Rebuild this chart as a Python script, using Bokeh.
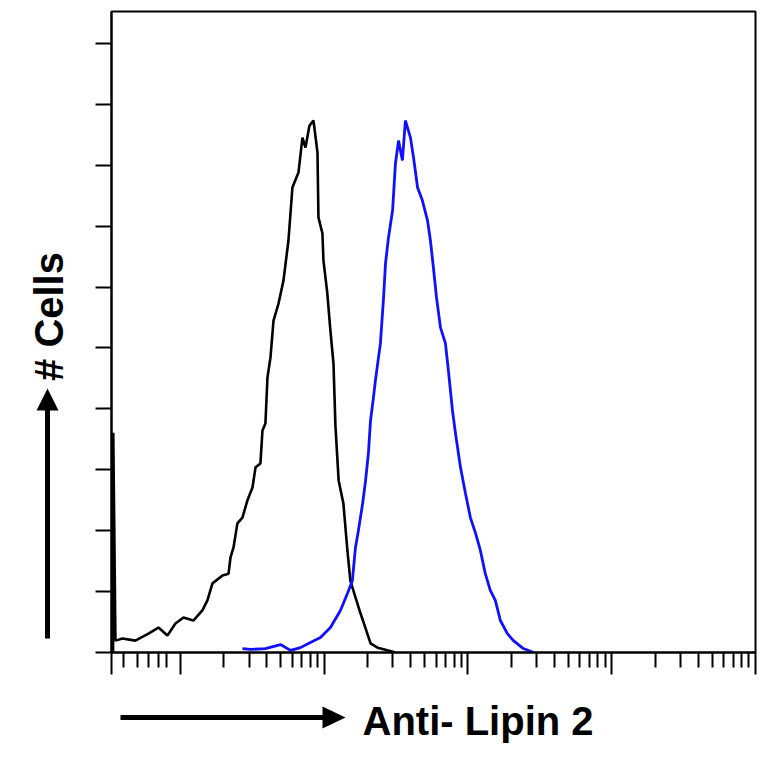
import math
from bokeh.plotting import figure
from bokeh.models import Range1d, FixedTicker, CustomJSTickFormatter
from bokeh.layouts import column, row
from bokeh.core.properties import value
from bokeh.embed import file_html
from bokeh.resources import INLINE

# ---- data ----
# Control (black) histogram: fluorescence value, cell count
ctrl_fl = [0.340, 0.341, 0.353, 0.395, 0.486, 0.599, 0.703, 0.812, 0.923, 1.05, 1.23,
           1.42, 1.54, 1.67, 1.96, 2.16, 2.23, 2.34, 2.49, 2.70, 2.92, 3.17, 3.33,
           3.60, 3.72, 3.90, 4.03, 4.23, 4.44, 4.81, 5.21, 5.64, 6.01, 6.62, 7.06,
           7.41, 7.89, 8.42, 8.98, 9.12, 9.72, 9.88, 10.5, 11.0, 11.6, 11.97, 12.6,
           13.6, 14.5, 15.2, 16.5, 17.9, 19.4, 21.0, 23.5, 27.5, 31.3]
ctrl_cnt = [0, 72.2, 3.9, 4.6, 3.9, 6.2, 8.2, 5.6, 9.5, 11.5, 10.5,
            13.8, 17.1, 22.7, 25.3, 25.9, 31.2, 34.5, 42.4, 44.3, 49.9, 54.2, 60.8,
            62.1, 72.9, 75.2, 90.3, 96.9, 109.0, 114.6, 122.2, 135.3, 152.7, 157.6, 169.1,
            165.8, 173.0, 174.7, 164.2, 142.9, 137.6, 128.7, 118.2, 106.7, 94.9, 74.5, 56.5,
            48.9, 33.5, 23.6, 18.1, 12.8, 7.9, 3.0, 1.6, 0.7, 0]

# Anti-Lipin 2 (blue) histogram
lipin_fl = [2.70, 3.07, 3.90, 4.96, 5.83, 6.84, 8.02, 9.42, 11.05, 12.97, 14.5, 15.7,
            16.5, 17.3, 18.5, 19.4, 20.3, 21.0, 22.0, 22.7, 24.6, 25.8, 26.7, 28.0,
            29.9, 31.3, 32.9, 35.0, 36.7, 39.8, 41.8, 44.6, 48.2, 52.3, 54.8, 57.5,
            60.4, 64.4, 69.7, 73.1, 78.0, 81.9, 88.7, 96.1, 104, 113, 122, 132,
            143, 155, 168, 188, 207, 243, 286]
lipin_cnt = [1.3, 1.0, 1.3, 2.6, 0.7, 1.6, 3.3, 4.9, 8.2, 13.8, 19.4, 23.6,
             34.5, 40.1, 48.9, 56.5, 65.4, 76.2, 83.7, 89.3, 101.5, 115.6, 127.8, 136.3,
             145.2, 160.6, 168.1, 161.6, 174.7, 169.1, 162.6, 152.7, 148.4, 141.9, 135.3, 126.4,
             116.6, 106.7, 101.5, 92.6, 79.5, 71.9, 60.8, 52.2, 44.3, 39.1, 33.5, 25.9,
             20.4, 17.1, 10.5, 6.2, 3.9, 1.3, 0]

x_major = [0.3315, 1, 10, 100, 1000, 10000]
x_minor = [0.4, 0.5, 0.6, 0.7, 0.8] + [m * 10 ** d for d in range(0, 4) for m in range(2, 10)]
y_ticks = [0, 20, 40, 60, 80, 100, 120, 140, 160, 180, 200]

x_title = "Anti- Lipin 2"
y_title = "# Cells"

x_lo, x_hi = 0.3315, 10000
y_lo, y_hi = 0, 210.5

# ---- layout sizes (pixels) ----
LEFT_W = 70
MAIN_W = 688
MAIN_H = 692
BOTTOM_H = 68
TOTAL_W = LEFT_W + MAIN_W
FRAME_TOP, FRAME_BOTTOM = 11, 652
TXT_SHIFT = 15  # text anchor -> baseline distance observed for 40px text

font = "Liberation Sans"

# ---- main histogram plot ----
p = figure(width=MAIN_W, height=MAIN_H, x_axis_type="log", output_backend="svg",
           toolbar_location=None, x_range=Range1d(x_lo, x_hi), y_range=Range1d(y_lo, y_hi),
           min_border_left=111 - LEFT_W, min_border_right=3, min_border_top=FRAME_TOP,
           min_border_bottom=MAIN_H - FRAME_BOTTOM)
p.grid.visible = False
p.outline_line_color = "black"
p.outline_line_width = 2
p.background_fill_color = "white"
p.border_fill_color = "white"

p.xaxis.ticker = FixedTicker(ticks=x_major, minor_ticks=x_minor)
p.yaxis.ticker = FixedTicker(ticks=y_ticks, minor_ticks=[])
for ax in (p.xaxis, p.yaxis):
    ax.axis_line_color = "black"
    ax.axis_line_width = 2
    ax.major_tick_line_color = "black"
    ax.major_tick_line_width = 2
    ax.minor_tick_line_color = "black"
    ax.minor_tick_line_width = 2
    ax.major_tick_in = 0
    ax.minor_tick_in = 0
    ax.formatter = CustomJSTickFormatter(code="return ''")
    ax.major_label_standoff = 0
p.xaxis.major_tick_out = 22
p.xaxis.minor_tick_out = 15
p.yaxis.major_tick_out = 16
p.yaxis.minor_tick_out = 0

p.line(ctrl_fl, ctrl_cnt, line_color="black", line_width=2.6)
p.line(lipin_fl, lipin_cnt, line_color="#1010ff", line_width=2.8)


def strip(width, height, y_start, y_end):
    """Decoration strip whose data units equal page pixels (y measured upward)."""
    s = figure(width=width, height=height, output_backend="svg",
               toolbar_location=None, title=None,
               x_range=Range1d(0, width), y_range=Range1d(y_start, y_end),
               x_axis_location=None, y_axis_location=None,
               min_border=0, min_border_left=0, min_border_right=0,
               min_border_top=0, min_border_bottom=0)
    s.grid.visible = False
    s.outline_line_color = None
    s.background_fill_color = "white"
    s.border_fill_color = "white"
    return s

# ---- left strip: vertical arrow + "# Cells" ----
# its frame lines up with the main frame (page y 11..652), so y data = MAIN_H - page y
def ly(py):
    return MAIN_H - py
ls = strip(LEFT_W, MAIN_H, ly(FRAME_BOTTOM), ly(FRAME_TOP))
ls.quad(left=[44.5], right=[49.5], top=[ly(406)], bottom=[ly(638)], fill_color="black",
        line_color=None)
ls.patch([36, 47, 58], [ly(410), ly(388), ly(410)], fill_color="black", line_color=None)
ls.text(x=[63 - TXT_SHIFT], y=[ly(316)], text=[y_title], angle=math.pi / 2,
        text_align="center", text_baseline="alphabetic", text_font=value(font),
        text_font_style="bold", text_font_size="40px", text_color="black")

# ---- bottom strip: horizontal arrow + "Anti- Lipin 2" ----
def by(py):
    return MAIN_H + BOTTOM_H - py
bs = strip(TOTAL_W, BOTTOM_H, 0, BOTTOM_H)
bs.quad(left=[120], right=[326], top=[by(714.5)], bottom=[by(719.5)], fill_color="black",
        line_color=None)
bs.patch([322, 345, 322], [by(706), by(717), by(728)], fill_color="black", line_color=None)
bs.text(x=[362], y=[by(735 - TXT_SHIFT)], text=[x_title], text_align="left",
        text_baseline="alphabetic", text_font=value(font), text_font_style="bold",
        text_font_size="40px", text_color="black")

layout = column(row(ls, p), bs)
open("out.html", "w").write(file_html(layout, INLINE))
